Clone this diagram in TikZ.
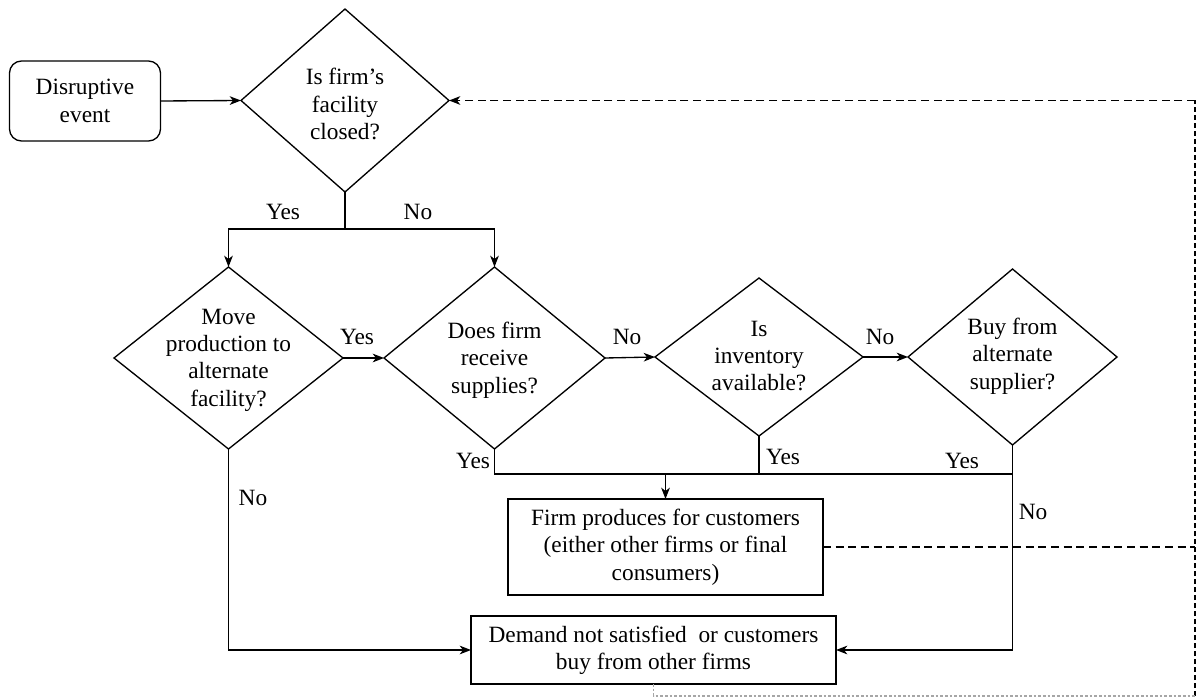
\documentclass[tikz,border=0pt]{standalone}
\usepackage{fontspec}
\setmainfont{Liberation Serif}
\usetikzlibrary{shapes.geometric,arrows.meta}
\begin{document}
\begin{tikzpicture}[x=0.75pt,y=-0.75pt,
  every node/.style={font=\fontsize{17.5pt}{20.5pt}\selectfont},
  ln/.style={line width=1pt},
  tip/.style={-{Stealth[length=8.5pt,width=6.5pt,inset=2.5pt]}},
  arr/.style={ln,tip},
  dia/.style={diamond,draw,ln,inner sep=0pt,outer sep=0pt},
  boxn/.style={rectangle,draw,ln,inner sep=0pt,outer sep=0pt,align=center},
  txt/.style={align=center,inner sep=0pt},
  lab/.style={inner sep=0pt},
  dlong/.style={ln,dash pattern=on 6pt off 3.5pt},
  dshort/.style={ln,dash pattern=on 3.5pt off 2.5pt},
]
\useasboundingbox (0,0) rectangle (1198,698);

% nodes
\node[boxn,rounded corners=9pt,minimum width=113.25pt,minimum height=60pt] (ev) at (85,101) {Disruptive\\event};
\node[dia,minimum width=156pt,minimum height=137.25pt] (d1) at (345,100.5) {};
\node[txt] (t1) at (345,104) {Is firm’s\\facility\\closed?};
\node[dia,minimum width=171.75pt,minimum height=136.5pt] (d2) at (228.5,358) {};
\node[txt] (t2) at (228.5,360) {Move\\production to\\alternate\\facility?};
\node[dia,minimum width=165.75pt,minimum height=136.5pt] (d3) at (494.5,358) {};
\node[txt] (t3) at (494.5,360) {Does firm\\receive\\supplies?};
\node[dia,minimum width=156pt,minimum height=118.5pt] (d4) at (759,357) {};
\node[txt] (t4) at (759,356) {Is\\inventory\\available?};
\node[dia,minimum width=156.75pt,minimum height=132pt] (d5) at (1012.5,357) {};
\node[txt] (t5) at (1012.5,356) {Buy from\\alternate\\supplier?};
\node[boxn,minimum width=236.25pt,minimum height=72pt] (firm) at (665.5,547) {Firm produces for customers\\(either other firms or final\\consumers)};
\node[boxn,minimum width=273.75pt,minimum height=51pt] (dem) at (653.5,650) {Demand not satisfied\ \ or customers\\buy from other firms};

% coordinates
\coordinate (br) at (345,229);
\coordinate (j3) at (494.5,474);
\coordinate (j5) at (1012.5,474);
\coordinate (rc) at (1195,547);
\coordinate (rt) at (1195,100.5);
\coordinate (rb) at (1195,696);

% solid connectors
\draw[arr] (ev.east) -- (d1.west);
\draw[ln] (d1.south) -- (br);
\draw[arr] (br) -| (d2.north);
\draw[arr] (br) -| (d3.north);
\draw[arr] (d2.east) -- (d3.west);
\draw[arr] (d3.east) -- (d4.west);
\draw[arr] (d4.east) -- (d5.west);
\draw[ln] (d3.south) -- (j3) -- (j5);
\draw[ln] (d4.south) -- (d4.south |- j3);
\draw[arr] (d5.south) |- (dem.east);
\draw[arr] (firm.north |- j3) -- (firm.north);
\draw[arr] (d2.south) |- (dem.west);

% dashed feedback
\draw[dlong] (firm.east) -- (rc);
\draw[dshort] (rb) -- (rt);
\draw[dlong,tip] (rt) -- (d1.east);
\draw[ln,gray!70,dash pattern=on 2pt off 1.5pt] (dem.south) |- (rb);

% labels
\node[lab] (l1) at (283,212) {Yes};
\node[lab] (l2) at (418,212) {No};
\node[lab] (l3) at (357,337) {Yes};
\node[lab] (l4) at (627,337) {No};
\node[lab] (l5) at (880,337) {No};
\node[lab] (l6) at (473,461) {Yes};
\node[lab] (l7) at (783,457) {Yes};
\node[lab] (l8) at (962,461) {Yes};
\node[lab] (l9) at (253,498) {No};
\node[lab] (l10) at (1033,512) {No};
\end{tikzpicture}
\end{document}
